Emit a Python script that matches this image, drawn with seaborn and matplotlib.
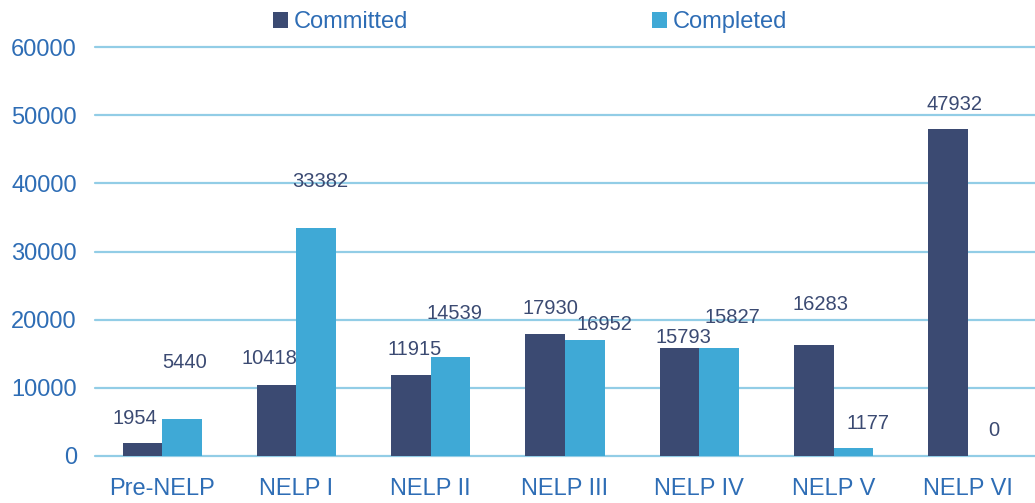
import pandas as pd
import matplotlib.pyplot as plt
import seaborn as sns

# data
rounds = ['Pre-NELP', 'NELP I', 'NELP II', 'NELP III', 'NELP IV', 'NELP V', 'NELP VI']
committed = [1954, 10418, 11915, 17930, 15793, 16283, 47932]
completed = [5440, 33382, 14539, 16952, 15827, 1177, 0]
series = ['Committed', 'Completed']
colors = ['#3B4A72', '#3FA9D6']

# where the value labels sit (x offset from category centre, label height)
committed_lbl_dx = [-0.20, -0.20, -0.12, -0.11, -0.12, -0.10, -0.10]
committed_lbl_y = [5574, 14376, 15623, 21710, 17456, 22224, 51563]
completed_lbl_dx = [0.17, 0.18, 0.18, 0.29, 0.25, 0.26, 0.19]
completed_lbl_y = [13789, 40340, 20977, 19290, 20390, 4768, 3814]

df = pd.DataFrame({
    'Round': rounds * 2,
    'Series': ['Committed'] * len(rounds) + ['Completed'] * len(rounds),
    'Value': committed + completed,
})

sns.set_theme(style='white')
plt.rcParams['font.family'] = ['Liberation Sans', 'DejaVu Sans']

fig = plt.figure(figsize=(10.35, 5.03), dpi=100)
ax = fig.add_axes([95 / 1035, 47 / 503, 940 / 1035, 409 / 503])

sns.barplot(data=df, x='Round', y='Value', hue='Series', hue_order=series,
            palette=colors, width=0.59, gap=0, saturation=1, linewidth=0, ax=ax)

handles, labels = ax.get_legend_handles_labels()
ax.get_legend().remove()

ax.set_ylim(0, 60000)
ax.set_xlim(-0.5, len(rounds) - 0.5)
ax.set_yticks(range(0, 60001, 10000))
ax.yaxis.grid(True, color='#92CDE6', linewidth=1.6)
for gl in ax.get_ygridlines():
    gl.set_clip_on(False)
ax.set_axisbelow(True)
for s in ax.spines.values():
    s.set_visible(False)
ax.set_xlabel('')
ax.set_ylabel('')
ax.tick_params(axis='both', length=0, labelsize=17, labelcolor='#2E6DB5')
ax.tick_params(axis='x', pad=16)
ax.tick_params(axis='y', pad=13)

for i in range(len(rounds)):
    ax.text(i + committed_lbl_dx[i], committed_lbl_y[i], str(committed[i]),
            ha='center', va='center', fontsize=14.5, color='#3B4A72')
    ax.text(i + completed_lbl_dx[i], completed_lbl_y[i], str(completed[i]),
            ha='center', va='center', fontsize=14.5, color='#3B4A72')

fig.legend(handles, labels, loc='center', bbox_to_anchor=(530 / 1035, 1 - 22 / 503),
           ncol=2, frameon=False, fontsize=17, labelcolor='#2E6DB5',
           handlelength=0.65, handleheight=0.65, handletextpad=0.25,
           columnspacing=10.3)

fig.savefig('out.png', dpi=100)
